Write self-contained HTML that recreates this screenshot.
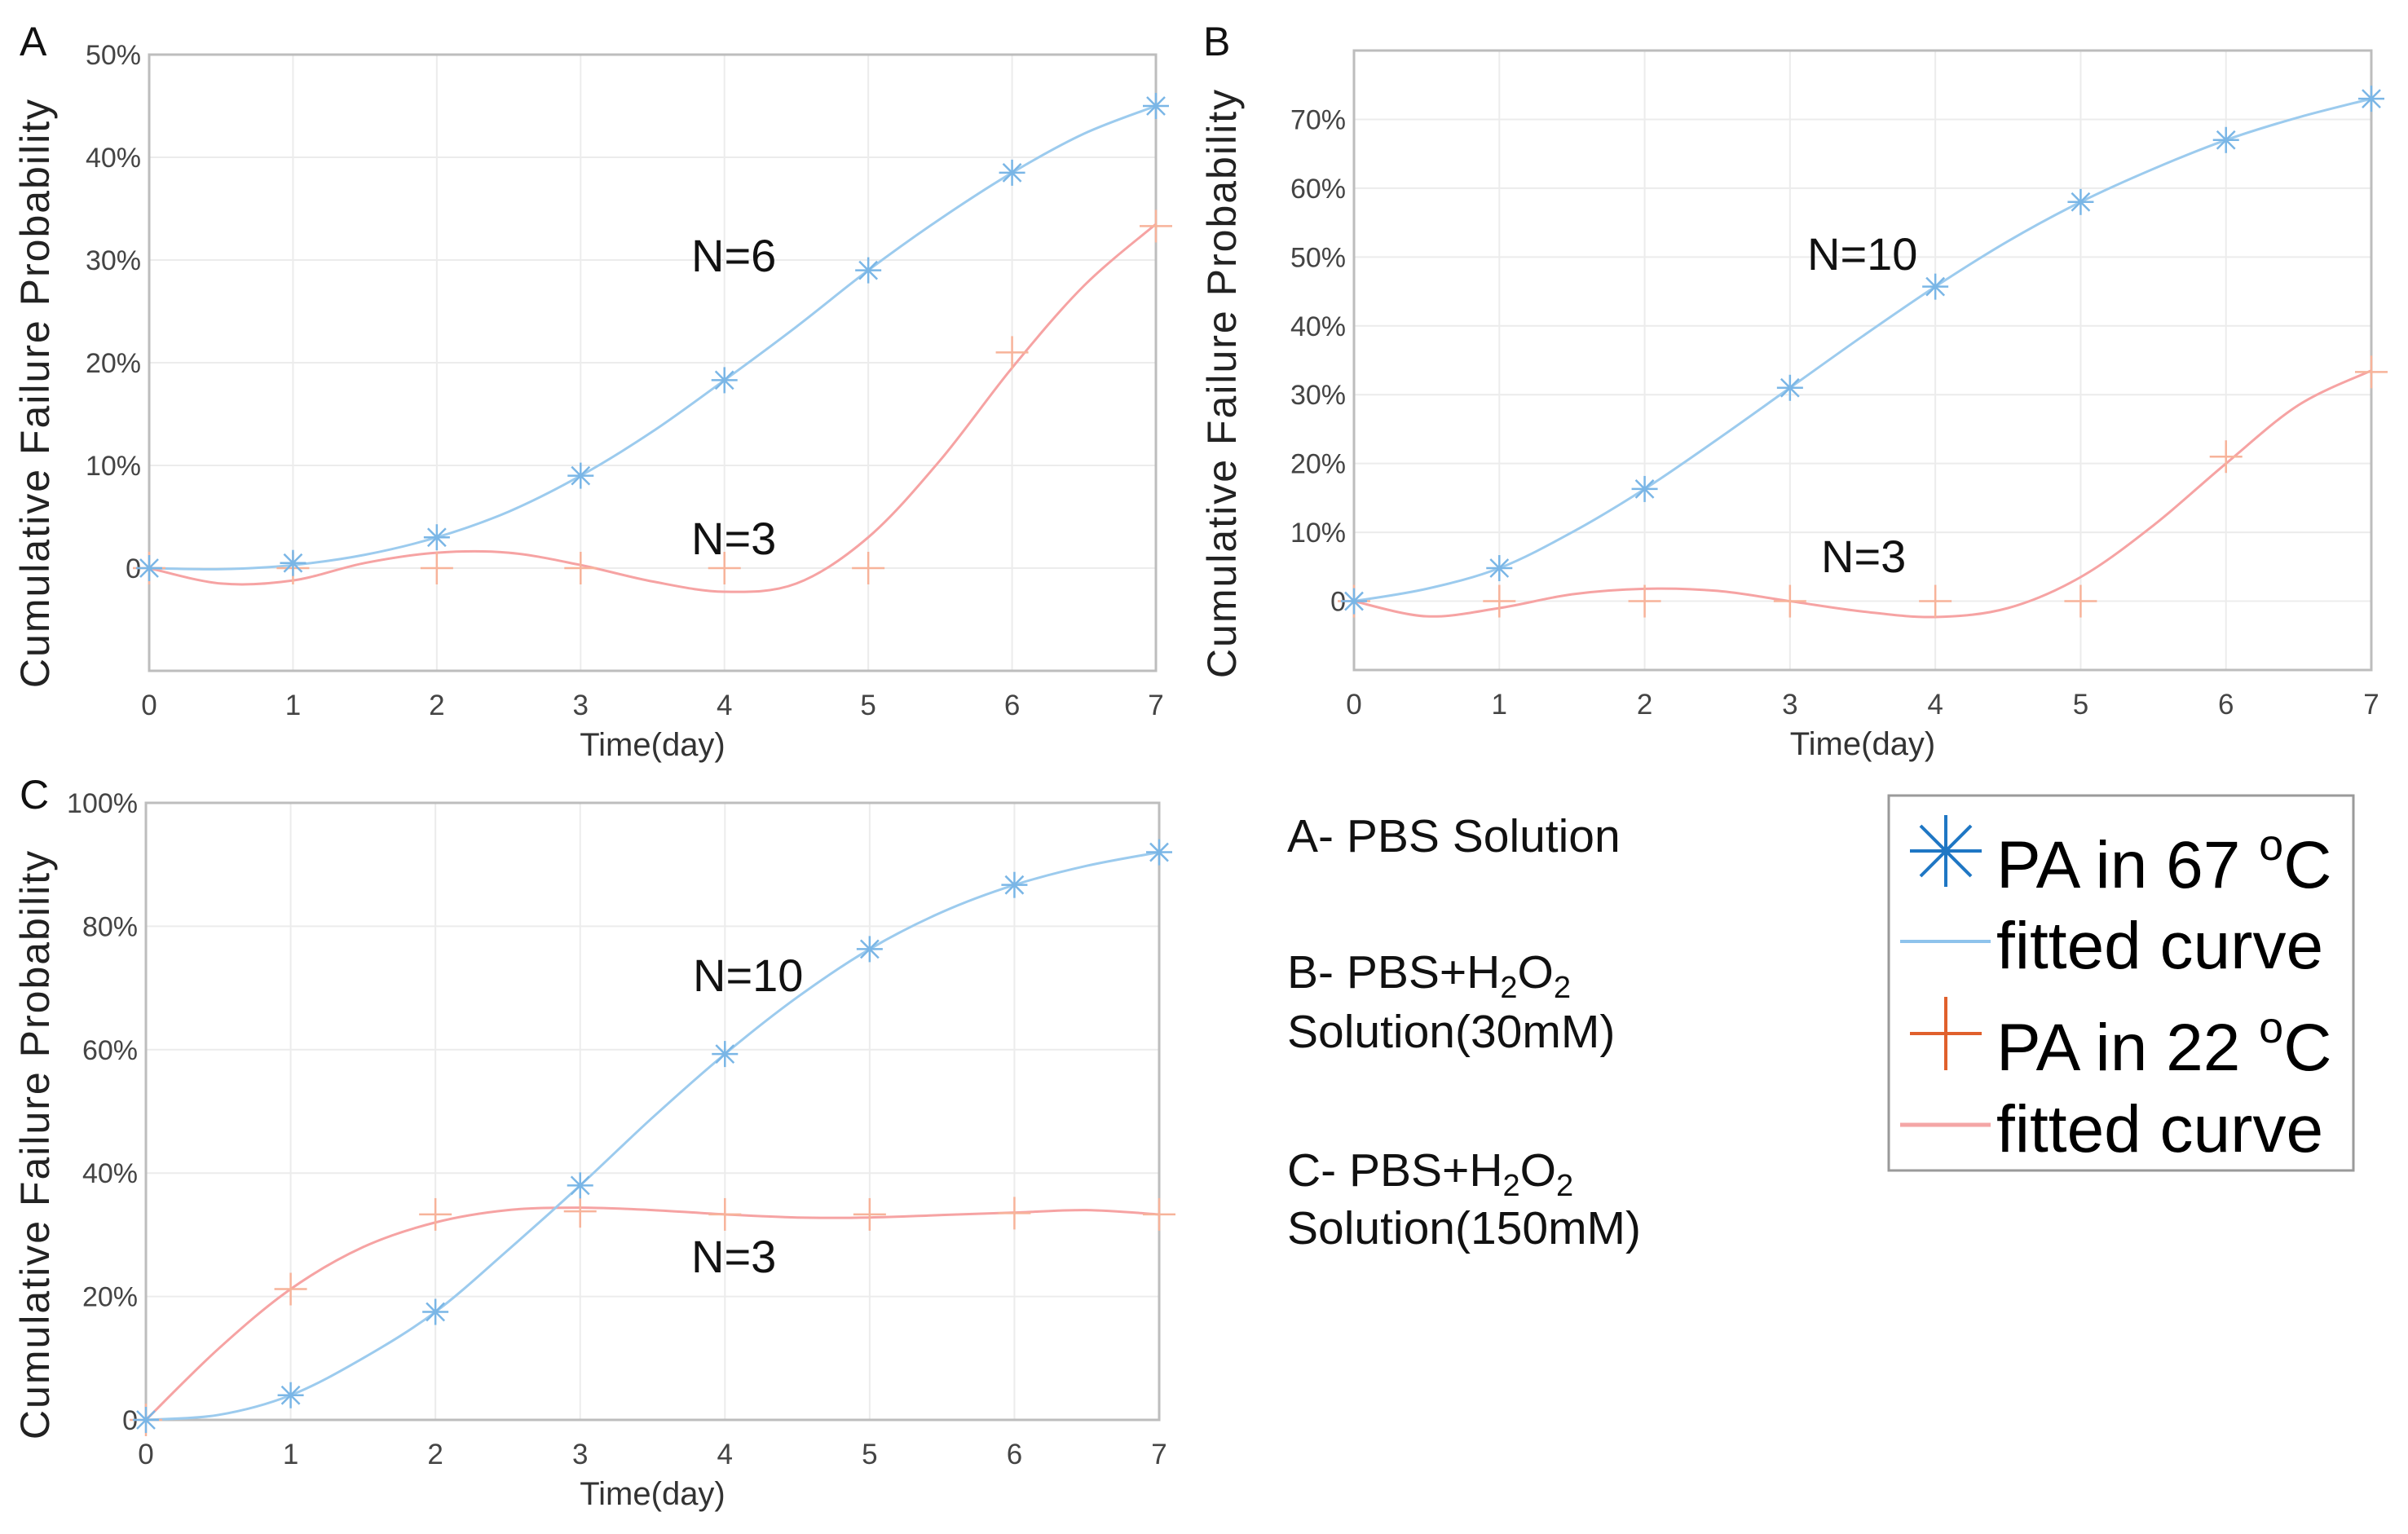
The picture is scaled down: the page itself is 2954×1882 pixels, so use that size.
<!DOCTYPE html>
<html><head><meta charset="utf-8"><style>
html,body{margin:0;padding:0;background:#fff;}
svg{display:block;font-family:"Liberation Sans",sans-serif;}
</style></head><body>
<svg id="fig" width="2954" height="1882" viewBox="0 0 2954 1882" xmlns="http://www.w3.org/2000/svg">
<rect width="2954" height="1882" fill="#fff"/>
<g id="root"></g>
<g font-size="57" fill="#111">
<text x="1579" y="1045">A- PBS Solution</text>
<text x="1579" y="1212">B- PBS+H<tspan font-size="38" dy="12">2</tspan><tspan dy="-12">O</tspan><tspan font-size="38" dy="12">2</tspan></text>
<text x="1579" y="1285">Solution(30mM)</text>
<text x="1579" y="1455">C- PBS+H<tspan font-size="38" dy="12">2</tspan><tspan dy="-12">O</tspan><tspan font-size="38" dy="12">2</tspan></text>
<text x="1579" y="1526">Solution(150mM)</text>
</g>
<g>
<rect x="2317" y="976" width="570" height="460" fill="#fff" stroke="#9a9a9a" stroke-width="3"/>
<g stroke="#1f77c4" stroke-width="4">
<line x1="2387" y1="1000" x2="2387" y2="1088"/><line x1="2343" y1="1044" x2="2431" y2="1044"/>
<line x1="2356" y1="1013" x2="2418" y2="1075"/><line x1="2356" y1="1075" x2="2418" y2="1013"/></g>
<text x="2449" y="1089" font-size="82">PA in 67 <tspan font-size="54" dy="-34">o</tspan><tspan dy="34">C</tspan></text>
<line x1="2331" y1="1155" x2="2442" y2="1155" stroke="#8ec3ec" stroke-width="4"/>
<text x="2449" y="1188" font-size="82">fitted curve</text>
<g stroke="#e0602c" stroke-width="4">
<line x1="2387" y1="1223" x2="2387" y2="1313"/><line x1="2343" y1="1268" x2="2431" y2="1268"/></g>
<text x="2449" y="1313" font-size="82">PA in 22 <tspan font-size="54" dy="-34">o</tspan><tspan dy="34">C</tspan></text>
<line x1="2331" y1="1380" x2="2442" y2="1380" stroke="#f4a6a6" stroke-width="5"/>
<text x="2449" y="1413" font-size="82">fitted curve</text>
</g>
</svg>
<script>
const days = [0,1,2,3,4,5,6,7];
const fitDays = [0,0.5,1,1.5,2,2.5,3,3.5,4,4.5,5,5.5,6,6.5,7];
const aHot = [0,0.5,3,9,18.3,29,38.5,45];
const aCold = [0,0,0,0,0,0,21,33.3];
const aHotFit = [0,-0.1,0.3,1.3,3,5.5,9,13.3,18.3,23.5,29,34,38.5,42.3,45];
const aColdFit = [0,-1.5,-1.2,0.5,1.5,1.5,0.3,-1.3,-2.3,-1.5,3,10.5,19.5,27.5,33.5];
const bHot = [0,4.8,16.3,31,45.7,58,67,73];
const bCold = [0,0,0,0,0,0,21,33.3];
const bHotFit = [0,1.8,4.8,10,16.3,23.5,31,38.5,45.7,52.3,58,62.8,67,70.3,73];
const bColdFit = [0,-2.2,-1,1,1.8,1.5,0,-1.5,-2.3,-1,3.5,11,20,28.5,33.5];
const cHot = [0,4,17.5,38,59.3,76.3,86.7,92];
const cCold = [0,21.2,33.3,33.8,33.3,33.3,33.5,33.3];
const cHotFit = [0,0.8,4,10,17.5,27.5,38,49,59.3,68.5,76.3,82.3,86.7,89.8,92];
const cColdFit = [0,11.5,21.2,28,32,34,34.4,34,33.3,32.8,32.8,33.2,33.6,34,33.3];
const aTicks = [0,10,20,30,40,50];
const bTicks = [0,10,20,30,40,50,60,70];
const cTicks = [0,20,40,60,80,100];
const xTicks = [0,1,2,3,4,5,6,7];

const NS='http://www.w3.org/2000/svg';
const root=document.getElementById('root');
function mk(tag,attrs,parent){const e=document.createElementNS(NS,tag);for(const k in attrs)e.setAttribute(k,attrs[k]);(parent||root).appendChild(e);return e;}
function spline(pts){let d='M'+pts[0][0]+','+pts[0][1];for(let i=0;i<pts.length-1;i++){const p0=pts[Math.max(0,i-1)],p1=pts[i],p2=pts[i+1],p3=pts[Math.min(pts.length-1,i+2)];
d+=' C'+(p1[0]+(p2[0]-p0[0])/6)+','+(p1[1]+(p2[1]-p0[1])/6)+' '+(p2[0]-(p3[0]-p1[0])/6)+','+(p2[1]-(p3[1]-p1[1])/6)+' '+p2[0]+','+p2[1];}return d;}

function panel(o){
  const g=mk('g',{});
  
  
  const xs=v=>o.L+(v-0)/7*(o.R-o.L);
  const ys=v=>o.B-(v-o.ymin)/(o.ymax-o.ymin)*(o.B-o.T);
  for(const t of xTicks){const l=mk('line',{x1:xs(t),x2:xs(t),y1:o.T,y2:o.B,stroke:'#ececec','stroke-width':2},g);
    
    const tx=mk('text',{x:xs(t),y:o.B+54,'font-size':35,fill:'#444','text-anchor':'middle'},g);tx.textContent=t;
    }
  for(const t of o.ticks){const l=mk('line',{x1:o.L,x2:o.R,y1:ys(t),y2:ys(t),stroke:'#ececec','stroke-width':2},g);
    
    const tx=mk('text',{x:o.L-10,y:ys(t)+12,'font-size':34,fill:'#444','text-anchor':'end'},g);tx.textContent=t===0?'0':t+'%';
    }
  const box=mk('rect',{x:o.L,y:o.T,width:o.R-o.L,height:o.B-o.T,fill:'none',stroke:'#bdbdbd','stroke-width':3},g);
  
  const xt=mk('text',{x:(o.L+o.R)/2,y:o.B+104,'font-size':40,fill:'#333','text-anchor':'middle'},g);xt.textContent='Time(day)';
  
  const yt=mk('text',{x:0,y:0,'font-size':50,fill:'#222','text-anchor':'middle',transform:'translate('+o.yx+','+o.yy+') rotate(-90)','letter-spacing':'2'},g);yt.textContent='Cumulative Failure Probability';
  
  const lt=mk('text',{x:o.lx,y:o.ly,'font-size':50,fill:'#111'},g);lt.textContent=o.id.toUpperCase();
  
  const f1=mk('path',{d:spline(fitDays.map((d,i)=>[xs(d),ys(o.coldFit[i])])),fill:'none',stroke:'#f6a3a3','stroke-width':3},g);
  
  const f2=mk('path',{d:spline(fitDays.map((d,i)=>[xs(d),ys(o.hotFit[i])])),fill:'none',stroke:'#9ccbee','stroke-width':3},g);
  
  days.forEach((d,i)=>{const x=xs(d),y=ys(o.cold[i]);const m=mk('g',{stroke:'#f7b39a','stroke-width':2.5},g);
    
    mk('line',{x1:x-20,x2:x+20,y1:y,y2:y},m);mk('line',{x1:x,x2:x,y1:y-20,y2:y+20},m);});
  days.forEach((d,i)=>{const x=xs(d),y=ys(o.hot[i]);const m=mk('g',{stroke:'#7ab6e6','stroke-width':2.5},g);
    
    mk('line',{x1:x-16,x2:x+16,y1:y,y2:y},m);mk('line',{x1:x,x2:x,y1:y-16,y2:y+16},m);
    mk('line',{x1:x-11,x2:x+11,y1:y-11,y2:y+11},m);mk('line',{x1:x-11,x2:x+11,y1:y+11,y2:y-11},m);});
  o.notes.forEach(n=>{const t=mk('text',{x:n[0],y:n[1],'font-size':56,fill:'#111'},g);t.textContent=n[2];
    });
}
panel({id:'a',L:183,R:1418,T:67,B:823,ymin:-10,ymax:50,ticks:aTicks,hot:aHot,cold:aCold,hotFit:aHotFit,coldFit:aColdFit,yx:60,yy:482,lx:24,ly:68,notes:[[848,333,'N=6'],[848,680,'N=3']]});
panel({id:'b',L:1661,R:2909,T:62,B:822,ymin:-10,ymax:80,ticks:bTicks,hot:bHot,cold:bCold,hotFit:bHotFit,coldFit:bColdFit,yx:1516,yy:470,lx:1476,ly:68,notes:[[2217,331,'N=10'],[2234,702,'N=3']]});
panel({id:'c',L:179,R:1422,T:985,B:1742,ymin:0,ymax:100,ticks:cTicks,hot:cHot,cold:cCold,hotFit:cHotFit,coldFit:cColdFit,yx:60,yy:1404,lx:24,ly:992,notes:[[850,1216,'N=10'],[848,1561,'N=3']]});
</script>
</body></html>
